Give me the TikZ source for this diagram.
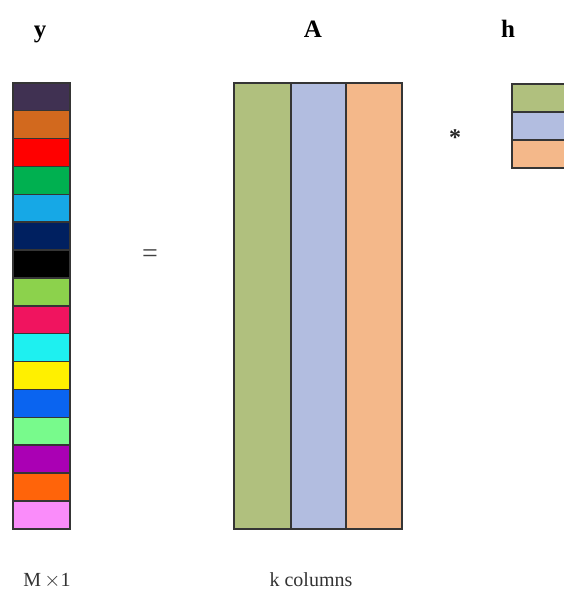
\documentclass[tikz,border=0pt]{standalone}
\usepackage{fontspec}
\setmainfont{Liberation Serif}
\definecolor{c1}{HTML}{403152}
\definecolor{c2}{HTML}{D2691E}
\definecolor{c3}{HTML}{FF0000}
\definecolor{c4}{HTML}{00B050}
\definecolor{c5}{HTML}{16A8E6}
\definecolor{c6}{HTML}{002060}
\definecolor{c7}{HTML}{000000}
\definecolor{c8}{HTML}{8CD24C}
\definecolor{c9}{HTML}{F0145F}
\definecolor{c10}{HTML}{1EF0F0}
\definecolor{c11}{HTML}{FFF000}
\definecolor{c12}{HTML}{0A64F0}
\definecolor{c13}{HTML}{78FA8C}
\definecolor{c14}{HTML}{AA00B4}
\definecolor{c15}{HTML}{FF640A}
\definecolor{c16}{HTML}{FA8CFA}
\definecolor{agreen}{HTML}{B0C07E}
\definecolor{ablue}{HTML}{B2BDE0}
\definecolor{aorange}{HTML}{F4B88A}
\definecolor{bord}{HTML}{353535}
\tikzset{
  cell/.style={draw=bord, line width=1.6pt, inner sep=0pt, anchor=north west},
  biglabel/.style={font=\fontsize{25}{28}\selectfont\bfseries, anchor=base},
  smalllabel/.style={font=\fontsize{20}{24}\selectfont, text=black!80, anchor=base},
  op/.style={font=\fontsize{28}{30}\selectfont, text=black!75}
}
\begin{document}
\begin{tikzpicture}[x=1pt,y=-1pt]
\useasboundingbox (0,0) rectangle (563,596);
% labels
\node[biglabel] (ly) at (40,38) {y};
\node[biglabel] (lA) at (313,38) {A};
\node[biglabel] (lh) at (508,38) {h};
% y vector
\foreach \i in {1,...,16}{
  \node[cell, fill=c\i, minimum width=57pt, minimum height=27.875pt] (y\i) at (12,{82+(\i-1)*27.875}) {};
}
% A matrix
\node[cell, fill=agreen, minimum width=57pt, minimum height=446pt] (a1) at (233,82) {};
\node[cell, fill=ablue, minimum width=55pt, minimum height=446pt] (a2) at (290,82) {};
\node[cell, fill=aorange, minimum width=56pt, minimum height=446pt] (a3) at (345,82) {};
% h vector
\node[cell, fill=agreen, minimum width=60pt, minimum height=28pt] (h1) at (511,83) {};
\node[cell, fill=ablue, minimum width=60pt, minimum height=28pt] (h2) at (511,111) {};
\node[cell, fill=aorange, minimum width=60pt, minimum height=28pt] (h3) at (511,139) {};
% operators
\node[op] (eq) at (150,256) {=};
\node[op, font=\fontsize{24}{26}\selectfont\bfseries, text=black!85] (star) at (455,138) {*};
% bottom labels
\node[smalllabel] (lm) at (47,586) {M\,$\times$1};
\node[smalllabel] (lk) at (311,586) {k columns};
\end{tikzpicture}
\end{document}
